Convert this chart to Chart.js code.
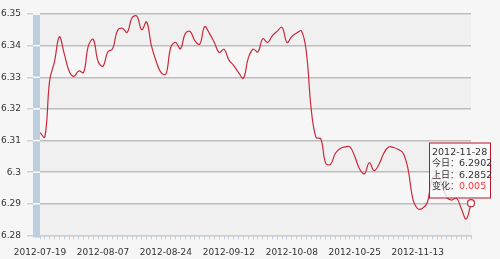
<!DOCTYPE html>
<html>
<head>
<meta charset="utf-8">
<script src="https://cdn.jsdelivr.net/npm/chart.js@4"></script>
<style>
  html, body { margin: 0; padding: 0; background: #f6f6f6; }
  #wrap { width: 500px; height: 259px; }
</style>
</head>
<body>
<div id="wrap"><canvas id="chart" width="500" height="259"></canvas></div>
<script>
// trading days shown on the chart
let dates = [
  "2012-07-19","2012-07-20","2012-07-23","2012-07-24","2012-07-25","2012-07-26","2012-07-27","2012-07-30","2012-07-31",
  "2012-08-01","2012-08-02","2012-08-03","2012-08-06","2012-08-07","2012-08-08","2012-08-09","2012-08-10",
  "2012-08-13","2012-08-14","2012-08-15","2012-08-16","2012-08-17","2012-08-20","2012-08-21","2012-08-22","2012-08-23","2012-08-24",
  "2012-08-27","2012-08-28","2012-08-29","2012-08-30","2012-08-31","2012-09-03","2012-09-04","2012-09-05","2012-09-06","2012-09-07",
  "2012-09-10","2012-09-11","2012-09-12","2012-09-13","2012-09-14","2012-09-17","2012-09-18","2012-09-19","2012-09-20","2012-09-21",
  "2012-09-24","2012-09-25","2012-09-26","2012-09-27","2012-09-28","2012-10-08","2012-10-09","2012-10-10","2012-10-11","2012-10-12",
  "2012-10-15","2012-10-16","2012-10-17","2012-10-18","2012-10-19","2012-10-22","2012-10-23","2012-10-24","2012-10-25","2012-10-26",
  "2012-10-29","2012-10-30","2012-10-31","2012-11-01","2012-11-02","2012-11-05","2012-11-06","2012-11-07","2012-11-08","2012-11-09",
  "2012-11-12","2012-11-13","2012-11-14","2012-11-15","2012-11-16","2012-11-19","2012-11-20","2012-11-21","2012-11-22","2012-11-23",
  "2012-11-26","2012-11-27","2012-11-28"
];

// rate values
let rates = [
  6.3125, 6.3111, 6.3290, 6.3350, 6.3428, 6.3375, 6.3320, 6.3303, 6.3320, 6.3315,
  6.3400, 6.3420, 6.3350, 6.3335, 6.3380, 6.3390, 6.3448, 6.3455, 6.3442, 6.3488,
  6.3493, 6.3450, 6.3475, 6.3400, 6.3350, 6.3315, 6.3310, 6.3394, 6.3410, 6.3390,
  6.3438, 6.3445, 6.3415, 6.3405, 6.3460, 6.3438, 6.3410, 6.3378, 6.3389, 6.3355,
  6.3337, 6.3315, 6.3297, 6.3360, 6.3389, 6.3380, 6.3422, 6.3410, 6.3432, 6.3446,
  6.3458, 6.3410, 6.3429, 6.3440, 6.3446, 6.3380, 6.3200, 6.3110, 6.3105, 6.3028,
  6.3025, 6.3060, 6.3075, 6.3080, 6.3080, 6.3050, 6.3010, 6.2995, 6.3030, 6.3005,
  6.3025, 6.3060, 6.3080, 6.3078, 6.3072, 6.3060, 6.3010, 6.2915, 6.2885, 6.2886,
  6.2905, 6.2980, 6.2990, 6.2965, 6.2920, 6.2912, 6.2918, 6.2885, 6.2852, 6.2902
];

let yTicks = [6.28, 6.29, 6.3, 6.31, 6.32, 6.33, 6.34, 6.35];
let labelEvery = 13;

let lineColor = "#c92a3c";
let blueLight = "#c3d1e0";
let font = '"DejaVu Sans", "Noto Sans CJK SC", sans-serif';

let last = rates.length - 1;
let marker = rates.map((v, i) => (i === last ? v : null));

// background, alternating bands, blue bar on the left
let bands = {
  id: "bands",
  beforeDraw(chart) {
    let ctx = chart.ctx;
    let a = chart.chartArea;
    let y = chart.scales.y;
    ctx.save();
    ctx.fillStyle = "#f6f6f6";
    ctx.fillRect(0, 0, chart.width, chart.height);
    for (let i = 0; i < yTicks.length - 1; i++) {
      if ((yTicks.length - 2 - i) % 2 === 0) {
        let top = y.getPixelForValue(yTicks[i + 1]);
        let bot = y.getPixelForValue(yTicks[i]);
        ctx.fillStyle = "#f0f0f0";
        ctx.fillRect(a.left, top, a.right - a.left, bot - top);
      }
    }
    ctx.restore();
  },
  afterDraw(chart) {
    let ctx = chart.ctx;
    let a = chart.chartArea;
    let y = chart.scales.y;
    ctx.save();
    ctx.fillStyle = "#bccddd";
    ctx.fillRect(a.left - 7, a.top, 7, a.bottom - a.top + 2);
    ctx.strokeStyle = "#ffffff";
    ctx.lineWidth = 1.5;
    yTicks.slice(1).forEach(function (t) {
      let py = y.getPixelForValue(t);
      ctx.beginPath();
      ctx.moveTo(a.left - 7, py);
      ctx.lineTo(a.left, py);
      ctx.stroke();
    });

    // info box for the last day
    let bx = 429.5, by = 143, bw = 61, bh = 55;
    ctx.fillStyle = "rgba(250,250,250,0.8)";
    ctx.fillRect(bx, by, bw, bh);
    ctx.strokeStyle = "#b8142c";
    ctx.lineWidth = 1;
    ctx.strokeRect(bx, by, bw, bh);

    let today = rates[last];
    let prev = rates[last - 1];
    let diff = parseFloat((today - prev).toFixed(4)).toString();
    ctx.font = "9.5px " + font;
    ctx.textBaseline = "middle";
    ctx.textAlign = "left";
    ctx.fillStyle = "#333333";
    let tx = bx + 2.5;
    ctx.fillText(dates[last], tx, by + 10);
    ctx.font = "9px " + font;
    let rows = [["今日：", today.toFixed(4), "#333333"], ["上日：", prev.toFixed(4), "#333333"], ["变化：", diff, "#ff3333"]];
    rows.forEach(function (r, k) {
      let ly = by + 21 + k * 11.2;
      ctx.fillStyle = "#333333";
      ctx.fillText(r[0], tx, ly);
      let w = ctx.measureText(r[0]).width;
      ctx.fillStyle = r[2];
      ctx.font = "9.5px " + font;
      ctx.fillText(r[1], tx + w, ly);
      ctx.font = "9px " + font;
    });
    ctx.restore();
  }
};

new Chart(document.getElementById("chart"), {
  type: "line",
  data: {
    labels: dates,
    datasets: [
      {
        data: rates,
        borderColor: lineColor,
        borderWidth: 1.2,
        tension: 0.4,
        pointRadius: rates.map((v, i) => (i === last ? 3.5 : 0)),
        pointBackgroundColor: "#ffffff",
        pointBorderColor: lineColor,
        pointBorderWidth: 1.2,
        fill: false
      },
      {
        data: marker,
        showLine: false,
        pointRadius: 1.4,
        pointBackgroundColor: "#e0102a",
        pointBorderWidth: 0
      }
    ]
  },
  options: {
    responsive: false,
    animation: false,
    layout: { padding: { top: 14, right: 29, left: 0, bottom: 0 } },
    plugins: { legend: { display: false }, tooltip: { enabled: false } },
    events: [],
    scales: {
      x: {
        grid: { drawOnChartArea: false, tickLength: 4, tickColor: blueLight, lineWidth: 1 },
        border: { color: blueLight },
        ticks: {
          autoSkip: false,
          maxRotation: 0,
          padding: 8,
          color: "#333333",
          font: { family: font, size: 9 },
          callback: function (v, i) {
            return i % labelEvery === 0 ? dates[i] : "";
          }
        },
        afterFit: function (s) { s.height = 23.5; }
      },
      y: {
        min: 6.28,
        max: 6.35,
        afterBuildTicks: function (s) {
          s.ticks = yTicks.map((v) => ({ value: v }));
        },
        grid: { color: "#bdbdbd", lineWidth: 1.5, tickLength: 13, tickColor: blueLight },
        border: { display: false },
        ticks: {
          padding: 6,
          color: "#333333",
          font: { family: font, size: 9 },
          callback: function (v) { return String(parseFloat(v.toFixed(2))); }
        },
        afterFit: function (s) { s.width = 40; }
      }
    }
  },
  plugins: [bands]
});
</script>
</body>
</html>
